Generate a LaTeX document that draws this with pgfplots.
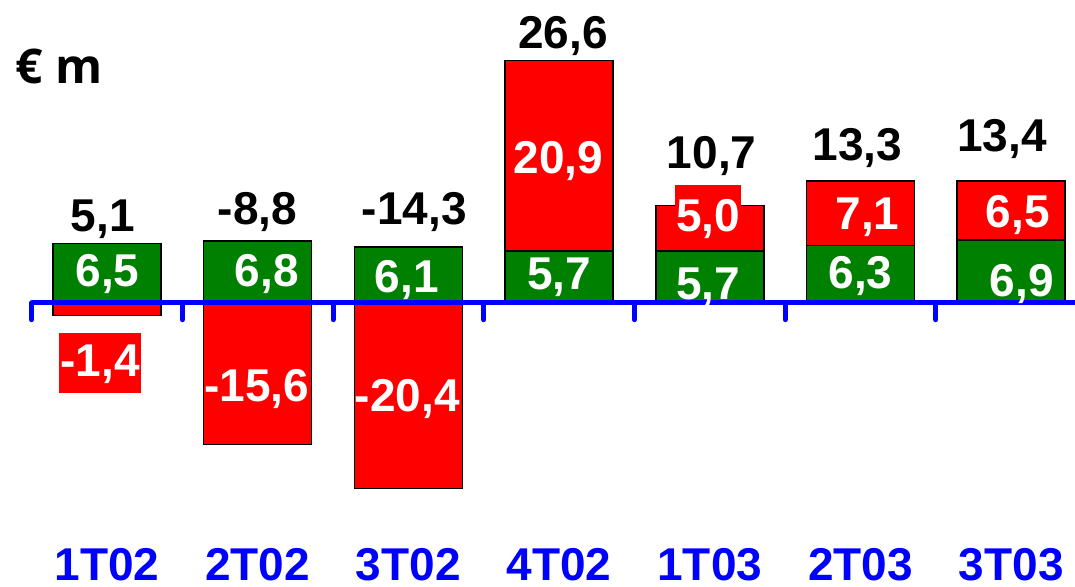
\documentclass[border=0pt]{standalone}
\usepackage{pgfplots}
\pgfplotsset{compat=1.18}
\usepackage{fontspec}
\setmainfont{Liberation Sans}
\newfontfamily\osfont{Open Sans}
\definecolor{cgreen}{RGB}{0,128,0}
\definecolor{cred}{RGB}{255,0,0}
\definecolor{cblue}{RGB}{0,0,255}
\begin{document}
\begin{tikzpicture}[
  lab/.style={font=\fontsize{23}{27}\selectfont\bfseries, anchor=base, inner sep=0pt},
  wlab/.style={lab, text=white},
]
\useasboundingbox (0,0) rectangle (537.5pt,293.5pt);
\pgfplotsset{
  base/.style={
    scale only axis, width=521.4pt, height=250.25pt,
    at={(15.825pt,28.4pt)}, anchor=south west,
    xmin=-0.5, xmax=6.42, ymin=-25, ymax=30,
    clip=false,
    bar width=54pt,
  }
}
% negative parts (drawn from 0 downwards)
\begin{axis}[base, ybar, bar shift=0pt,
  axis line style={draw=none},
  ytick=\empty,
  xtick={0,...,6},
  xticklabels={1T02,2T02,3T02,4T02,1T03,2T03,3T03},
  major tick length=0pt,
  xticklabel style={font=\fontsize{23}{27}\selectfont\bfseries, text=cblue, anchor=base, inner sep=0pt, yshift=-25.2pt},
]
\addplot[fill=cred, draw=black, line width=0.75pt] coordinates {(0,-1.4) (1,-15.6) (2,-20.4)};
\end{axis}
% stacked positive parts
\begin{axis}[base, ybar stacked, hide axis]
\addplot[fill=cgreen, draw=black, line width=0.75pt] coordinates {(0,6.5) (1,6.8) (2,6.1) (3,5.7) (4,5.7) (5,6.3) (6,6.9)};
\addplot[fill=cred, draw=black, line width=0.75pt] coordinates {(0,0) (1,0) (2,0) (3,20.9) (4,5.0) (5,7.1) (6,6.5)};
\end{axis}
% zero line and value labels on top
\begin{axis}[base, hide axis]
\draw[cblue, line width=2.5pt] (axis cs:-0.5,0) -- (axis cs:6.5,0);
\pgfplotsinvokeforeach{-0.5,0.5,1.5,2.5,3.5,4.5,5.5}{
  \draw[cblue, line width=2.5pt, line cap=round] (axis cs:#1,0) -- ([yshift=-8.5pt]axis cs:#1,0);
}
% totals
\node[lab] at (axis cs:-0.027,7.77) {5,1};
\node[lab] at (axis cs:0.999,8.54) {-8,8};
\node[lab] at (axis cs:2.04,8.54) {-14,3};
\node[lab] at (axis cs:3.026,27.98) {26,6};
\node[lab] at (axis cs:4.013,14.8) {10,7};
\node[lab] at (axis cs:4.98,15.68) {13,3};
\node[lab] at (axis cs:5.94,16.6) {13,4};
% green labels
\node[wlab] at (axis cs:0.003,1.83) {6,5};
\node[wlab] at (axis cs:1.06,1.83) {6,8};
\node[wlab] at (axis cs:1.99,1.07) {6,1};
\node[wlab] at (axis cs:3.0,1.4) {5,7};
\node[wlab] at (axis cs:3.99,0.3) {5,7};
\node[wlab] at (axis cs:5.0,1.6) {6,3};
\node[wlab] at (axis cs:6.07,0.66) {6,9};
% red labels
\node[wlab, fill=cred, text height=22pt, text depth=8pt, minimum width=41pt] at (axis cs:-0.046,-8.16) {-1,4};
\node[wlab] at (axis cs:0.993,-10.88) {-15,6};
\node[wlab] at (axis cs:1.993,-11.98) {-20,4};
\node[wlab] at (axis cs:2.995,14.25) {20,9};
\node[wlab, fill=cred, text height=23.5pt, text depth=5pt, minimum width=33pt] at (axis cs:3.99,7.8) {5,0};
\node[wlab] at (axis cs:5.046,7.99) {7,1};
\node[wlab] at (axis cs:6.045,8.21) {6,5};
\end{axis}
\node[anchor=base west, inner sep=0pt, font=\osfont\bfseries\fontsize{24}{29}\selectfont] at (7.5pt,251.5pt) {€ m};
\end{tikzpicture}
\end{document}
